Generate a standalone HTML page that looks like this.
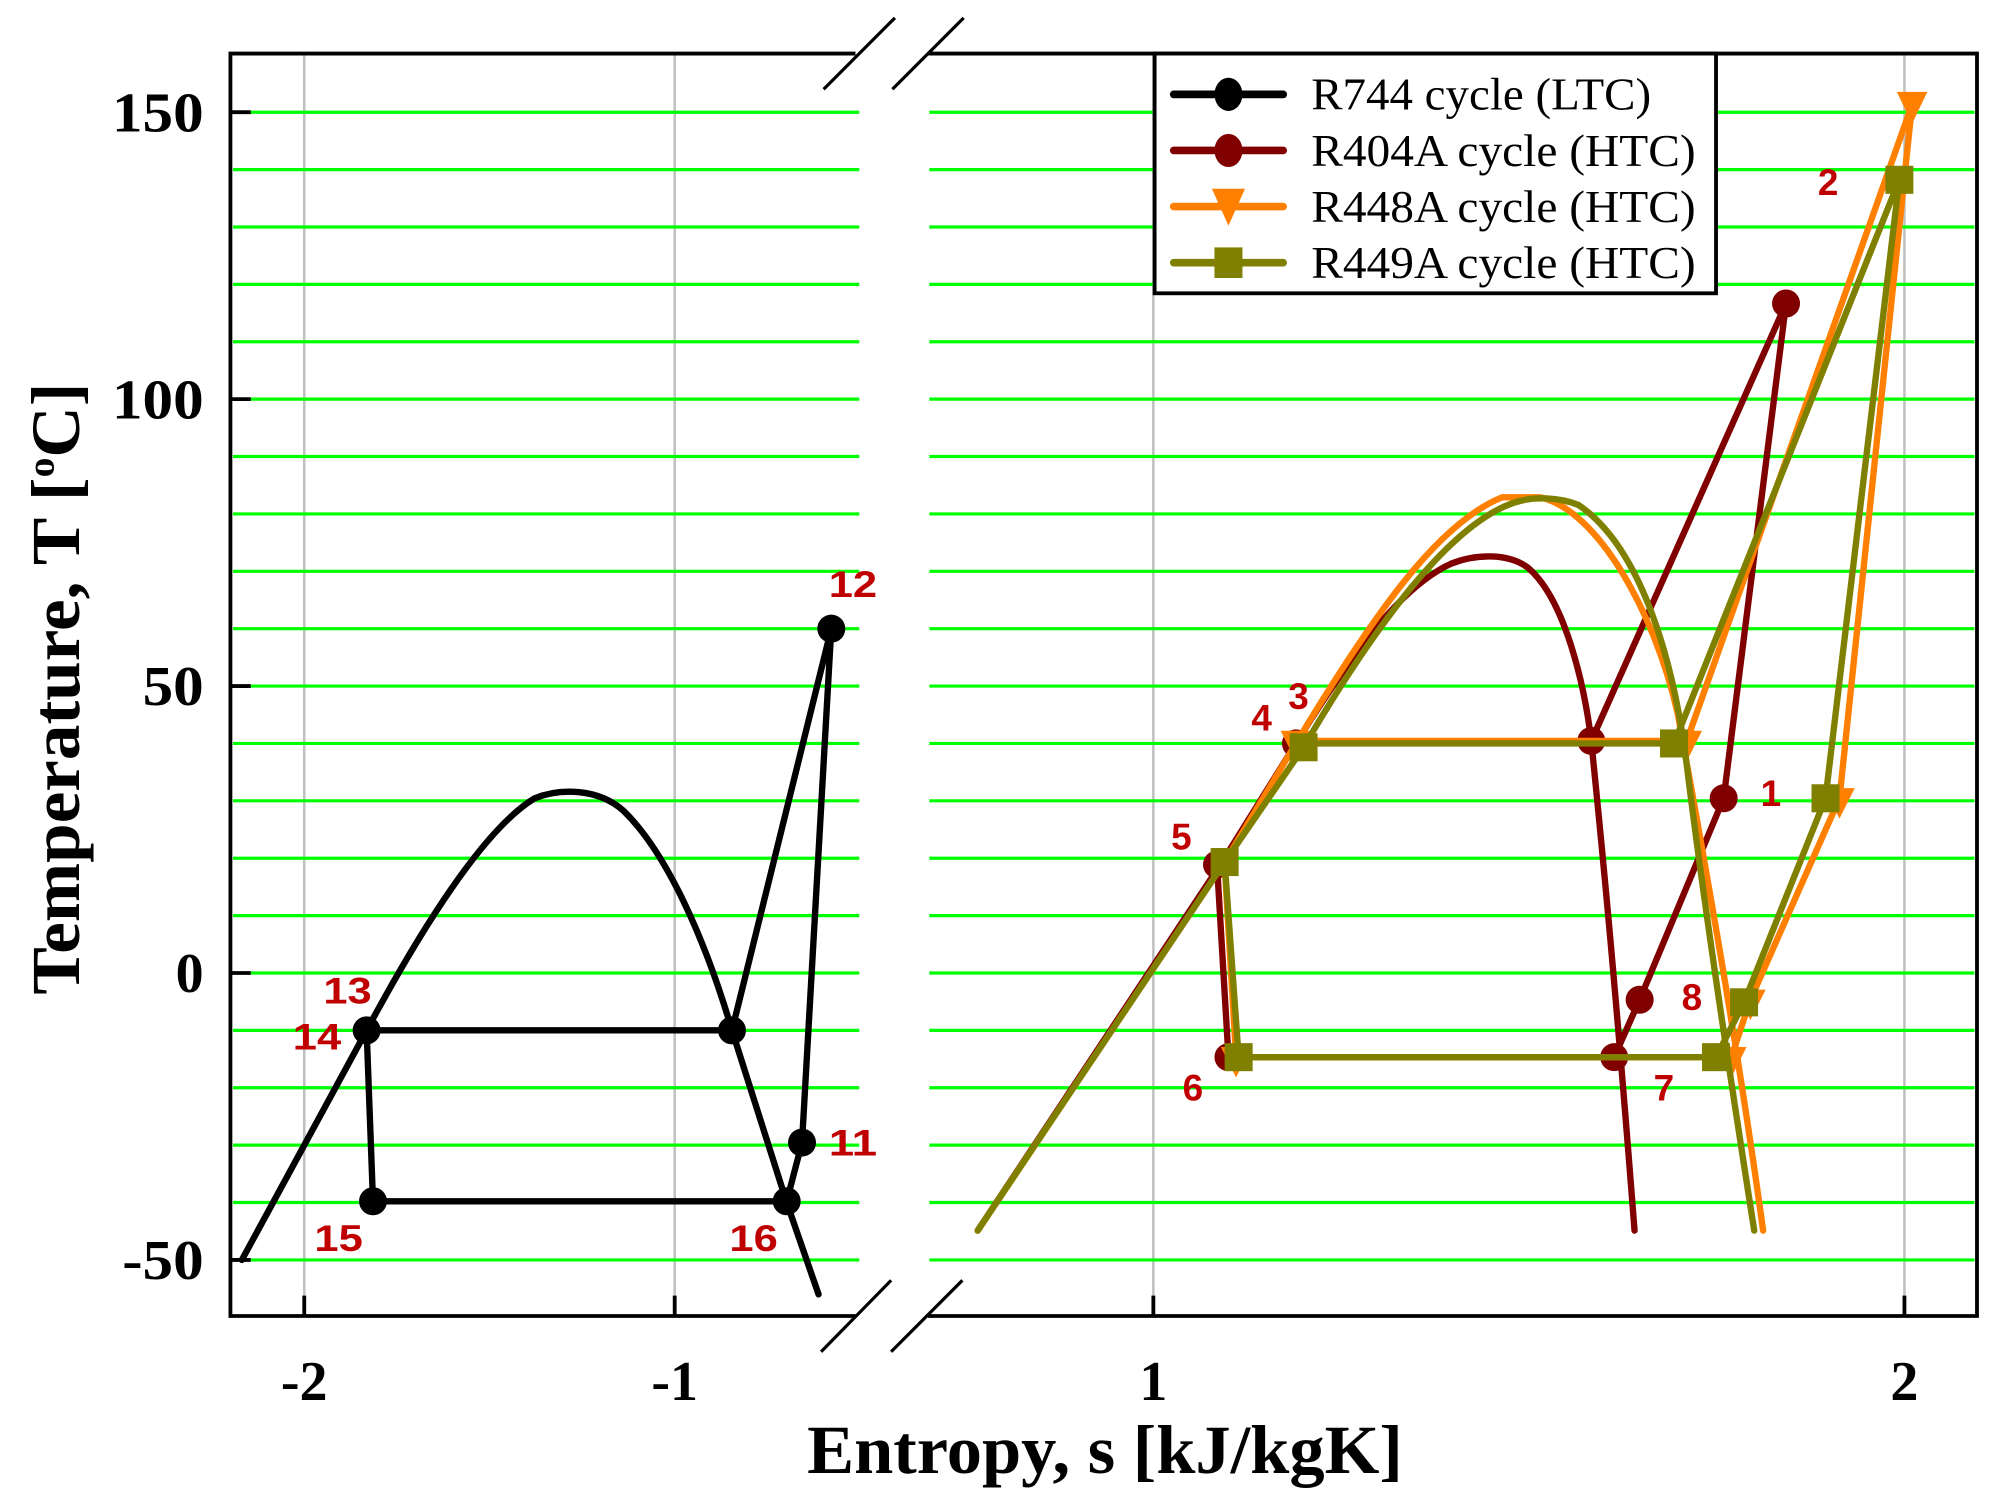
<!DOCTYPE html>
<html><head><meta charset="utf-8"><style>
html,body{margin:0;padding:0;background:#fff;}
svg{display:block;}
</style></head><body>
<svg width="1991" height="1492" viewBox="0 0 1564 1170" preserveAspectRatio="none" xmlns="http://www.w3.org/2000/svg">
<rect width="1564" height="1170" fill="#fff"/>
<g stroke="#c0c0c0" stroke-width="2">
<line x1="239" y1="42" x2="239" y2="1032"/><line x1="530" y1="42" x2="530" y2="1032"/>
<line x1="906" y1="42" x2="906" y2="1032"/><line x1="1496" y1="42" x2="1496" y2="1032"/>
</g>
<g stroke="#00ff00" stroke-width="2.5">
<line x1="183" y1="88" x2="675" y2="88"/><line x1="730" y1="88" x2="1551" y2="88"/>
<line x1="183" y1="133" x2="675" y2="133"/><line x1="730" y1="133" x2="1551" y2="133"/>
<line x1="183" y1="178" x2="675" y2="178"/><line x1="730" y1="178" x2="1551" y2="178"/>
<line x1="183" y1="223" x2="675" y2="223"/><line x1="730" y1="223" x2="1551" y2="223"/>
<line x1="183" y1="268" x2="675" y2="268"/><line x1="730" y1="268" x2="1551" y2="268"/>
<line x1="183" y1="313" x2="675" y2="313"/><line x1="730" y1="313" x2="1551" y2="313"/>
<line x1="183" y1="358" x2="675" y2="358"/><line x1="730" y1="358" x2="1551" y2="358"/>
<line x1="183" y1="403" x2="675" y2="403"/><line x1="730" y1="403" x2="1551" y2="403"/>
<line x1="183" y1="448" x2="675" y2="448"/><line x1="730" y1="448" x2="1551" y2="448"/>
<line x1="183" y1="493" x2="675" y2="493"/><line x1="730" y1="493" x2="1551" y2="493"/>
<line x1="183" y1="538" x2="675" y2="538"/><line x1="730" y1="538" x2="1551" y2="538"/>
<line x1="183" y1="583" x2="675" y2="583"/><line x1="730" y1="583" x2="1551" y2="583"/>
<line x1="183" y1="628" x2="675" y2="628"/><line x1="730" y1="628" x2="1551" y2="628"/>
<line x1="183" y1="673" x2="675" y2="673"/><line x1="730" y1="673" x2="1551" y2="673"/>
<line x1="183" y1="718" x2="675" y2="718"/><line x1="730" y1="718" x2="1551" y2="718"/>
<line x1="183" y1="763" x2="675" y2="763"/><line x1="730" y1="763" x2="1551" y2="763"/>
<line x1="183" y1="808" x2="675" y2="808"/><line x1="730" y1="808" x2="1551" y2="808"/>
<line x1="183" y1="853" x2="675" y2="853"/><line x1="730" y1="853" x2="1551" y2="853"/>
<line x1="183" y1="898" x2="675" y2="898"/><line x1="730" y1="898" x2="1551" y2="898"/>
<line x1="183" y1="943" x2="675" y2="943"/><line x1="730" y1="943" x2="1551" y2="943"/>
<line x1="183" y1="988" x2="675" y2="988"/><line x1="730" y1="988" x2="1551" y2="988"/>
</g>
<g stroke="#000" stroke-width="3" fill="none">
<polyline points="672,42 181,42 181,1032 672,1032"/>
<polyline points="729,42 1553,42 1553,1032 729,1032"/>
<line x1="181" y1="88" x2="197" y2="88"/><line x1="181" y1="313" x2="197" y2="313"/>
<line x1="181" y1="538" x2="197" y2="538"/><line x1="181" y1="763" x2="197" y2="763"/>
<line x1="181" y1="988" x2="197" y2="988"/>
<line x1="239" y1="1032" x2="239" y2="1016"/><line x1="530" y1="1032" x2="530" y2="1016"/>
<line x1="906" y1="1032" x2="906" y2="1016"/><line x1="1496" y1="1032" x2="1496" y2="1016"/>
</g>
<g stroke="#000" stroke-width="2.5">
<line x1="647" y1="70" x2="703" y2="14"/><line x1="701" y1="70" x2="757" y2="14"/>
<line x1="645" y1="1060" x2="700" y2="1004"/><line x1="700" y1="1060" x2="756" y2="1004"/>
</g>
<g stroke="#000" stroke-width="5" fill="none" stroke-linecap="round" stroke-linejoin="round">
<path d="M190,988 L288,808 C330,730 380,650 420,626 C440,618 470,618 490,636 C525,670 555,740 575,808 L618,943 L643,1015"/>
<polyline points="288,808 575,808 653,493 630,896 618,942 293,942 288,808"/>
</g>
<g fill="#000">
<circle cx="653" cy="493" r="11"/><circle cx="288" cy="808" r="11"/><circle cx="293" cy="942" r="11"/>
<circle cx="618" cy="942" r="11"/><circle cx="630" cy="896" r="11"/><circle cx="575" cy="808" r="11"/>
</g>
<g stroke="#800000" stroke-width="5" fill="none" stroke-linecap="round" stroke-linejoin="round">
<path d="M768,965 L960,676 L1018,583 C1060,515 1100,460 1140,442 C1160,434 1185,434 1200,445 C1230,470 1245,540 1250,581 C1258,660 1268,760 1284,965"/>
<polyline points="1250,581 1403,238 1354,626 1288,784 1268,829 965,829 956,678"/>
</g>
<g fill="#800000">
<circle cx="1403" cy="238" r="11"/><circle cx="1250" cy="581" r="11"/><circle cx="1354" cy="626" r="11"/>
<circle cx="1288" cy="784" r="11"/><circle cx="1268" cy="829" r="11"/><circle cx="965" cy="829" r="11"/>
<circle cx="956" cy="678" r="11"/><circle cx="1018" cy="583" r="11"/>
</g>
<g stroke="#ff8000" stroke-width="5" fill="none" stroke-linecap="round" stroke-linejoin="round">
<path d="M768,965 L962,676 L1018,583 C1080,480 1130,410 1180,390 L1210,390 C1255,400 1300,480 1318,560 C1340,680 1365,820 1385,965"/>
<polyline points="1325,581 1018,581"/>
<polyline points="1325,581 1502,82 1445,626 1375,784 1360,829 971,829 962,678"/>
</g>
<g fill="#ff8000">
<path d="M1490,72 L1514,72 L1502,97 Z"/><path d="M1313,573 L1337,573 L1325,597 Z"/><path d="M1433,618 L1457,618 L1445,642 Z"/>
<path d="M1363,776 L1387,776 L1375,800 Z"/><path d="M1348,821 L1372,821 L1360,845 Z"/><path d="M959,821 L983,821 L971,845 Z"/>
<path d="M1006,573 L1030,573 L1018,597 Z"/>
</g>
<g stroke="#808000" stroke-width="5" fill="none" stroke-linecap="round" stroke-linejoin="round">
<path d="M768,965 L962,676 L1024,586 C1080,490 1140,410 1190,394 C1205,389 1225,390 1240,396 C1290,430 1315,520 1325,600 C1340,720 1360,850 1378,965"/>
<polyline points="1024,583 1315,583 1492,141 1434,626 1370,786 1348,829 973,829 962,676"/>
</g>
<g fill="#808000">
<rect x="1481" y="130" width="22" height="22"/><rect x="1304" y="572" width="22" height="22"/><rect x="1423" y="615" width="22" height="22"/>
<rect x="1359" y="775" width="22" height="22"/><rect x="1337" y="818" width="22" height="22"/><rect x="962" y="818" width="22" height="22"/>
<rect x="951" y="665" width="22" height="22"/><rect x="1013" y="575" width="22" height="22"/>
</g>
<g fill="#c00000" font-family="Liberation Sans, sans-serif" font-weight="bold" font-size="29">
<text x="651" y="468" textLength="38" lengthAdjust="spacingAndGlyphs">12</text>
<text x="651" y="906" textLength="38" lengthAdjust="spacingAndGlyphs">11</text>
<text x="254" y="787" textLength="38" lengthAdjust="spacingAndGlyphs">13</text>
<text x="230" y="823" textLength="38" lengthAdjust="spacingAndGlyphs">14</text>
<text x="247" y="981" textLength="38" lengthAdjust="spacingAndGlyphs">15</text>
<text x="573" y="981" textLength="38" lengthAdjust="spacingAndGlyphs">16</text>
<text x="1428" y="153">2</text><text x="1383" y="632">1</text><text x="1012" y="556">3</text>
<text x="983" y="573">4</text><text x="920" y="666">5</text><text x="929" y="863">6</text>
<text x="1299" y="863">7</text><text x="1321" y="792">8</text>
</g>
<rect x="907" y="42" width="441" height="188" fill="#fff" stroke="#000" stroke-width="3"/>
<g stroke-width="6" stroke-linecap="round">
<line x1="922" y1="74" x2="1008" y2="74" stroke="#000"/>
<line x1="922" y1="118" x2="1008" y2="118" stroke="#800000"/>
<line x1="922" y1="162" x2="1008" y2="162" stroke="#ff8000"/>
<line x1="922" y1="206" x2="1008" y2="206" stroke="#808000"/>
</g>
<ellipse cx="965" cy="74" rx="11" ry="13" fill="#000"/><ellipse cx="965" cy="118" rx="11" ry="13" fill="#800000"/>
<path d="M952,148 L978,148 L965,177 Z" fill="#ff8000"/><rect x="954" y="194" width="22" height="24" fill="#808000"/>
<g font-family="Liberation Serif, serif" font-size="36" fill="#000">
<text x="1030" y="86" textLength="267" lengthAdjust="spacingAndGlyphs">R744 cycle (LTC)</text>
<text x="1030" y="130" textLength="302" lengthAdjust="spacingAndGlyphs">R404A cycle (HTC)</text>
<text x="1030" y="174" textLength="302" lengthAdjust="spacingAndGlyphs">R448A cycle (HTC)</text>
<text x="1030" y="218" textLength="302" lengthAdjust="spacingAndGlyphs">R449A cycle (HTC)</text>
</g>
<g font-family="Liberation Serif, serif" font-weight="bold" font-size="44" fill="#000" text-anchor="end">
<text x="160" y="103" textLength="72" lengthAdjust="spacingAndGlyphs">150</text>
<text x="160" y="328" textLength="72" lengthAdjust="spacingAndGlyphs">100</text>
<text x="160" y="553" textLength="48" lengthAdjust="spacingAndGlyphs">50</text>
<text x="160" y="778">0</text>
<text x="160" y="1003" textLength="64" lengthAdjust="spacingAndGlyphs">-50</text>
</g>
<g font-family="Liberation Serif, serif" font-weight="bold" font-size="44" fill="#000" text-anchor="middle">
<text x="239" y="1098">-2</text><text x="530" y="1098">-1</text><text x="906" y="1098">1</text><text x="1496" y="1098">2</text>
</g>
<text x="868" y="1155" text-anchor="middle" font-family="Liberation Serif, serif" font-weight="bold" font-size="54" textLength="468" lengthAdjust="spacingAndGlyphs">Entropy, s [kJ/kgK]</text>
<text transform="translate(62,540) rotate(-90)" text-anchor="middle" font-family="Liberation Serif, serif" font-weight="bold" font-size="54" textLength="480" lengthAdjust="spacingAndGlyphs">Temperature, T [<tspan font-size="30" dy="-20">o</tspan><tspan dy="20">C]</tspan></text>
</svg>
</body></html>
